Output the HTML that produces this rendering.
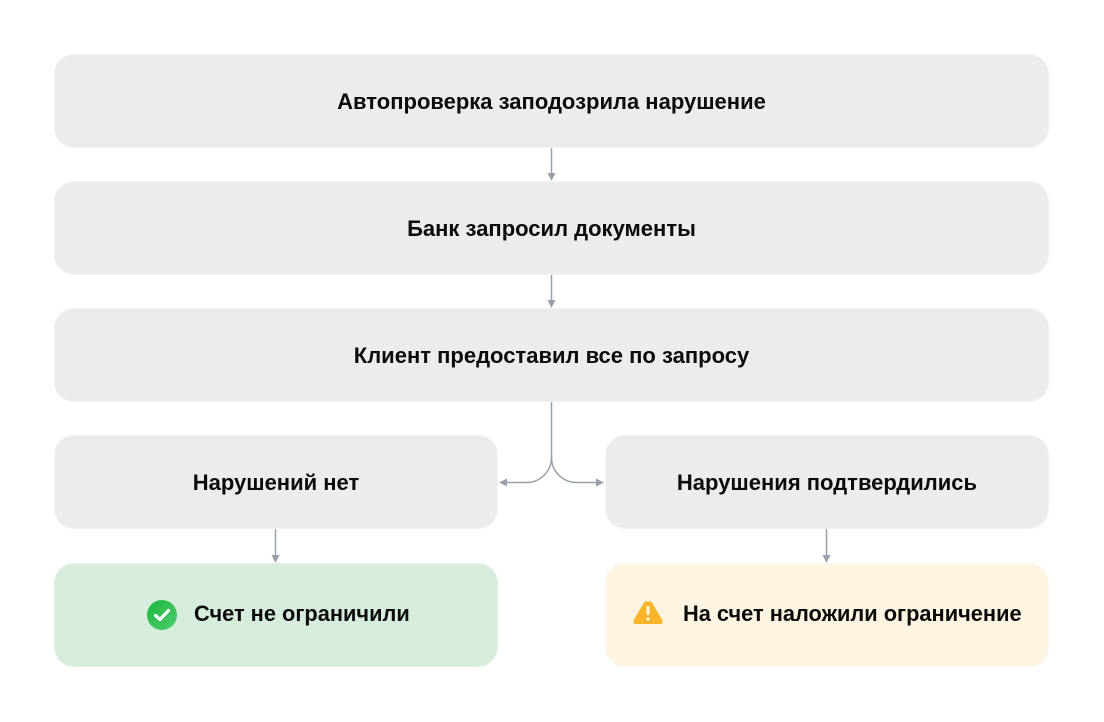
<!DOCTYPE html>
<html>
<head>
<meta charset="utf-8">
<style>
  html,body{margin:0;padding:0;background:#fff;}
  body{width:1104px;height:722px;position:relative;overflow:hidden;font-family:"Liberation Sans","Noto Sans CJK SC",sans-serif;}
  .box{position:absolute;box-sizing:border-box;border-radius:20px;background:#ebecee;border:1px solid #f1f2f4;
       display:flex;align-items:center;justify-content:center;font-weight:bold;font-size:22px;color:#0b0b0b;padding-top:1px;}
  .green{background:#d7eddc;border-color:#e0f1e4;}
  .yellow{background:#fdf5e2;border-color:#fdf7ea;}
  .lbl{position:absolute;height:28px;line-height:28px;font-weight:bold;font-size:21.8px;color:#0b0b0b;white-space:nowrap;}
  svg{position:absolute;left:0;top:0;}
</style>
</head>
<body>
  <div class="box" style="left:54px;top:54px;width:995px;height:94px;">Автопроверка заподозрила нарушение</div>
  <div class="box" style="left:54px;top:181px;width:995px;height:94px;">Банк запросил документы</div>
  <div class="box" style="left:54px;top:308px;width:995px;height:94px;">Клиент предоставил все по запросу</div>
  <div class="box" style="left:54px;top:435px;width:444px;height:94px;">Нарушений нет</div>
  <div class="box" style="left:605px;top:435px;width:444px;height:94px;">Нарушения подтвердились</div>
  <div class="box green" style="left:54px;top:563px;width:444px;height:104px;"></div>
  <div class="box yellow" style="left:605px;top:563px;width:444px;height:104px;"></div>
  <div class="lbl" style="left:194px;top:600px;">Счет не ограничили</div>
  <div class="lbl" style="left:683px;top:600px;">На счет наложили ограничение</div>

  <svg width="1104" height="722" viewBox="0 0 1104 722">
    <defs>
      <linearGradient id="g" x1="0" y1="0" x2="1" y2="1">
        <stop offset="0" stop-color="#1cb43f"/>
        <stop offset="1" stop-color="#4fcf6d"/>
      </linearGradient>
    </defs>
    <g stroke="#9aa0a9" stroke-width="1.5" fill="none">
      <line x1="551.5" y1="148" x2="551.5" y2="174"/>
      <line x1="551.5" y1="275" x2="551.5" y2="301"/>
      <line x1="275.5" y1="529" x2="275.5" y2="556"/>
      <line x1="826.5" y1="529" x2="826.5" y2="556"/>
      <path d="M551.5 402 V457 A25 25 0 0 1 526.5 482.5 H506"/>
      <path d="M551.5 457 A25 25 0 0 0 576.5 482.5 H597"/>
    </g>
    <g fill="#9aa0a9">
      <polygon points="547.5,173 555.5,173 551.5,181"/>
      <polygon points="547.5,300 555.5,300 551.5,308"/>
      <polygon points="271.5,555 279.5,555 275.5,563"/>
      <polygon points="822.5,555 830.5,555 826.5,563"/>
      <polygon points="507,478.5 507,486.5 499,482.5"/>
      <polygon points="596,478.5 596,486.5 604,482.5"/>
    </g>
    <circle cx="162" cy="615" r="15" fill="url(#g)"/>
    <path d="M155.5 615.5 L160 619.5 L168.5 610.5" stroke="#fff" stroke-width="3.2" fill="none" stroke-linecap="round" stroke-linejoin="round"/>
    <path d="M648 602 Q650 600 652 602.5 L662.5 620.5 Q663.5 623.5 660.5 624 H635.5 Q632.5 623.5 633.5 620.5 L644 602.5 Q646 600 648 602 Z" fill="#fbb52a"/>
    <rect x="646.6" y="606" width="2.8" height="9" rx="1.2" fill="#fff"/>
    <rect x="646.6" y="617.5" width="2.8" height="3" rx="1.2" fill="#fff"/>
  </svg>
</body>
</html>
